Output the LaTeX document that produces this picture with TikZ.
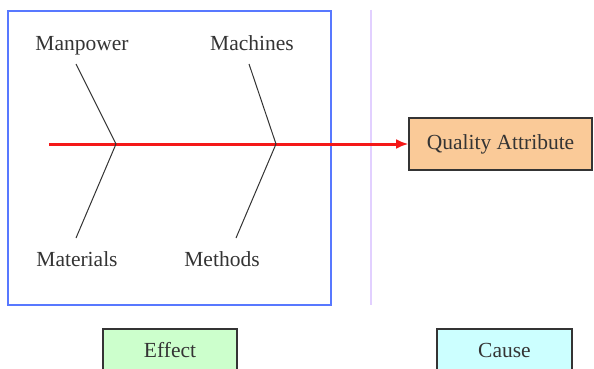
\documentclass[tikz,border=0pt]{standalone}
\usepackage{fontspec}
\setmainfont{Liberation Serif}
\usetikzlibrary{arrows.meta}
\definecolor{frameB}{RGB}{88,120,255}
\definecolor{spineR}{RGB}{244,24,24}
\definecolor{splitP}{RGB}{226,208,255}
\definecolor{fillQ}{RGB}{250,202,152}
\definecolor{fillE}{RGB}{204,255,204}
\definecolor{fillC}{RGB}{204,255,255}
\definecolor{inkG}{RGB}{52,52,52}

\begin{document}
\begin{tikzpicture}[x=1pt,y=-1pt,>={Latex[length=12pt,width=10pt]},
  lbl/.style={text=inkG,font=\fontsize{21.5}{25}\selectfont},
  tagbox/.style={lbl,draw=inkG,line width=1.6pt,inner sep=0pt},
  bone/.style={inkG,line width=1pt}]
\useasboundingbox (0,0) rectangle (594,369);
\fill[white] (0,0) rectangle (594,369);
\draw[frameB,line width=2pt] (8,11) rectangle (331,305);
\draw[splitP,line width=1.2pt] (371,10) -- (371,305);
% labels of the four causes
\node[lbl,anchor=base] (manpower) at (82,51) {Manpower};
\node[lbl,anchor=base] (machines) at (252,51) {Machines};
\node[lbl,anchor=base] (materials) at (77,266) {Materials};
\node[lbl,anchor=base] (methods) at (222,266) {Methods};
% head and boxes
\node[tagbox,fill=fillQ,minimum width=183,minimum height=52] (quality) at (500.5,144) {Quality Attribute};
\node[tagbox,fill=fillE,minimum width=134,minimum height=42] (effect) at (170,350) {Effect};
\node[tagbox,fill=fillC,minimum width=135,minimum height=42] (cause) at (504.5,350) {Cause};
% spine
\coordinate (tail) at (49,144);
\coordinate (j1) at (116,144);
\coordinate (j2) at (276,144);
\draw[->,spineR,line width=3pt] (tail) -- (quality);
% bones
\coordinate (b1u) at (76,64);
\coordinate (b1d) at (76,238);
\coordinate (b2u) at (249,64);
\coordinate (b2d) at (236,238);
\draw[bone] (b1u) -- (j1) -- (b1d);
\draw[bone] (b2u) -- (j2) -- (b2d);
\end{tikzpicture}
\end{document}
